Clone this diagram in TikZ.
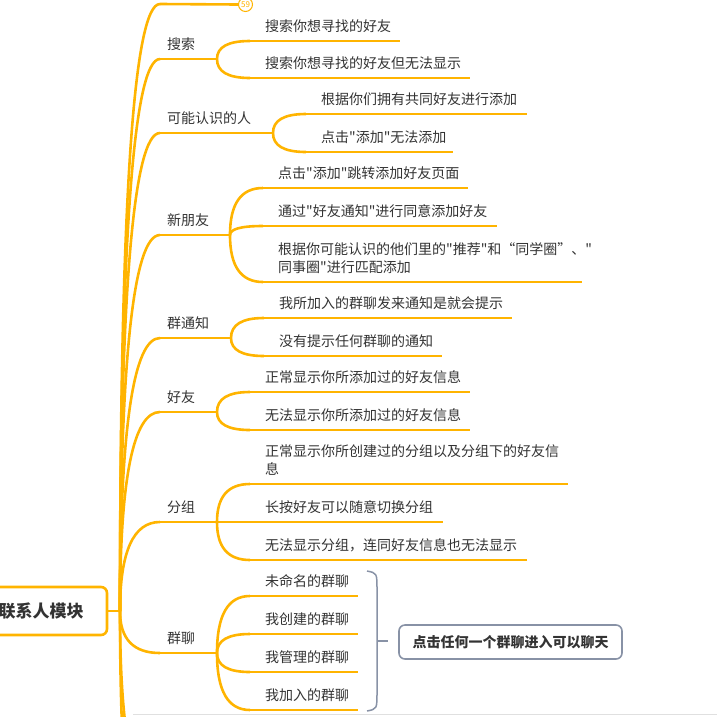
\documentclass[tikz,border=0pt]{standalone}
\usepackage{fontspec}
\newfontfamily\cjk{Noto Sans CJK SC}
\usetikzlibrary{calc}

\definecolor{twigorange}{RGB}{255,180,0}
\definecolor{bracegray}{RGB}{136,146,166}
\definecolor{inkgray}{RGB}{51,51,51}

\tikzset{
  twig/.style={draw=twigorange,line width=2.6pt},
  leaf/.style={anchor=south west,inner sep=0pt,text depth=2pt,text=inkgray,
    align=left,font=\cjk\fontsize{14}{18}\selectfont},
  rootbox/.style={draw=twigorange,line width=2.6pt,rounded corners=6pt,
    minimum width=132pt,minimum height=48pt,text=inkgray,
    font=\cjk\bfseries\fontsize{17}{20}\selectfont},
  notebox/.style={draw=bracegray,line width=1.6pt,rounded corners=6pt,
    minimum width=223pt,minimum height=34pt,text=inkgray,
    font=\cjk\bfseries\fontsize{14}{16}\selectfont},
}

% curved link, leaves #1 upright and reaches #2 level
\newcommand\bough[2]{\draw[twig] (#1) .. controls ($(#1)!.667!(#1 |- #2)$)
  and ($(#2)!.667!(#1 |- #2)$) .. (#2);}

% children of a branch: name, split x, list of line y / line end / text
\newcommand\sprig[3]{%
  \foreach \y/\e/\t [count=\i] in {#3} {
    \coordinate (#1-\i) at (#2+33,\y);
    \bough{#1-x}{#1-\i}
    \draw[twig] (#1-\i) -- (\e,\y);
    \node[leaf] (#1-\i-t) at (#2+48,\y-7) {\t};
  }}

\begin{document}
\begin{tikzpicture}[x=1pt,y=-1pt]
    \useasboundingbox (0,0) rectangle (717,716);
    \clip (0,0) rectangle (717,716);

    % root
    \node[rootbox] (root) at (41,611) {联系人模块};
    \coordinate (hub) at (120,611);
    \draw[twig] (root.east) -- (hub);

    % main branches
    \foreach \n/\y/\s/\t in {search/59/217/搜索, maybe/133/273/可能认识的人,
        newf/235/230/新朋友, gnote/338/231/群通知, friend/412/217/好友,
        group/522/217/分组, gchat/653/217/群聊} {
      \coordinate (\n) at (160,\y);
      \coordinate (\n-x) at (\s,\y);
      \bough{hub}{\n}
      \draw[twig] (\n) -- (\n-x);
      \node[leaf] (\n-t) at (167,\y-7) {\t};
    }

    % folded branch on top
    \coordinate (fold-in) at (160,4);
    \node[circle,draw=twigorange,line width=1pt,fill=white,inner sep=0pt,
        minimum size=14pt,text=twigorange,font=\cjk\fontsize{8}{8}\selectfont]
        (fold) at (245.5,4.5) {59};
    \bough{hub}{fold-in}
    \draw[twig] (fold-in) -- (fold.west);

    % branches further down
    \coordinate (low-a) at (160,800);
    \coordinate (low-b) at (160,900);
    \bough{hub}{low-a}
    \bough{hub}{low-b}

    % leaves
    \sprig{search}{217}{41/400/搜索你想寻找的好友, 78/470/搜索你想寻找的好友但无法显示}
    \sprig{maybe}{273}{114/527/根据你们拥有共同好友进行添加, 152/453/点击"添加"无法添加}
    \sprig{newf}{230}{188/468/点击"添加"跳转添加好友页面,
        226/497/通过"好友通知"进行同意添加好友,
        282/582/{根据你可能认识的他们里的"推荐"和“同学圈”、"\\同事圈"进行匹配添加}}
    \sprig{gnote}{231}{318/512/我所加入的群聊发来通知是就会提示, 356/442/没有提示任何群聊的通知}
    \sprig{friend}{217}{392/470/正常显示你所添加过的好友信息, 430/470/无法显示你所添加过的好友信息}
    \sprig{group}{217}{484/568/{正常显示你所创建过的分组以及分组下的好友信\\息},
        522/443/长按好友可以随意切换分组, 560/527/无法显示分组，连同好友信息也无法显示}
    \sprig{gchat}{217}{596/358/未命名的群聊, 634/358/我创建的群聊,
        672/358/我管理的群聊, 710/358/我加入的群聊}

    % summary brace for the chats
    \node[notebox] (note) at (510.5,642) {点击任何一个群聊进入可以聊天};
    \coordinate (brace-tip) at (388,641);
    \draw[bracegray,line width=1.5pt] (367,571) .. controls (377,573) .. (377,590)
        -- (377,692) .. controls (377,709) .. (367,711);
    \draw[bracegray,line width=1.5pt] (377,641) -- (brace-tip);

    % bottom edge
    \draw[black!12,line width=1pt] (133,714) -- (717,714);
\end{tikzpicture}
\end{document}
